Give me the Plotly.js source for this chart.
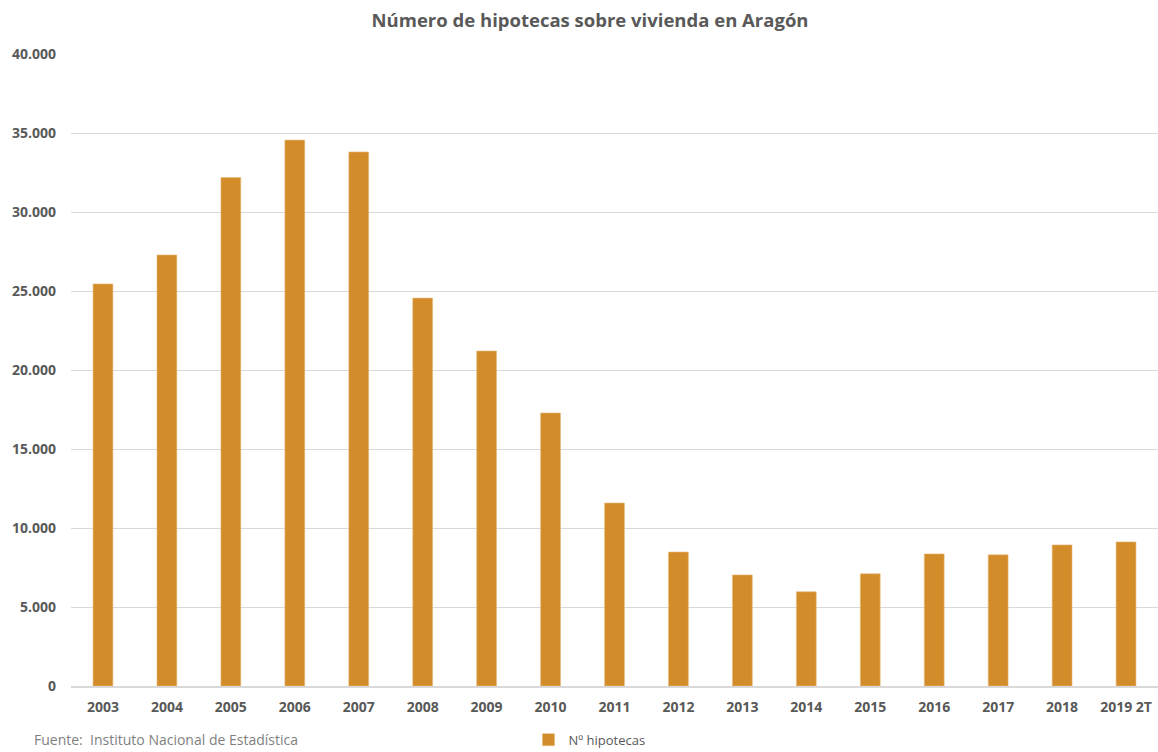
<!DOCTYPE html>
<html>
<head>
<meta charset="utf-8">
<script src="https://cdn.plot.ly/plotly-3.0.1.min.js"></script>
<style>html,body{margin:0;padding:0;background:#fff;}#chart{width:1158px;height:752px;}</style>
</head>
<body>
<div id="chart"></div>
<script>
var categories = ["2003","2004","2005","2006","2007","2008","2009","2010","2011","2012","2013","2014","2015","2016","2017","2018","2019 2T"];
var hipotecas = [25450, 27280, 32180, 34550, 33800, 24550, 21200, 17280, 11580, 8480, 7030, 5960, 7100, 8360, 8300, 8930, 9120];
var yTickVals = [0, 5000, 10000, 15000, 20000, 25000, 30000, 35000, 40000];
var yTickText = ["0", "5.000", "10.000", "15.000", "20.000", "25.000", "30.000", "35.000", "40.000"];

var fontFam = "Open Sans, Liberation Sans, sans-serif";
var trace = {
  type: "bar",
  x: categories,
  y: hipotecas,
  name: "Nº hipotecas",
  marker: {color: "#D38C2A", line: {color: "#E8B978", width: 0.6}},
  hoverinfo: "x+y"
};
var layout = {
  width: 1158, height: 752,
  margin: {l: 71, r: 0, t: 54, b: 66, pad: 0, autoexpand: false},
  paper_bgcolor: "#ffffff", plot_bgcolor: "#ffffff",
  title: {text: "<b>Número de hipotecas sobre vivienda en Aragón</b>", xref: "paper", x: 0.4775, xanchor: "center", y: 0.973, yanchor: "middle",
          font: {family: fontFam, size: 18.5, color: "#595959"}},
  bargap: 0.69,
  showlegend: true,
  legend: {orientation: "h", x: 0.477, xanchor: "center", y: -0.085, yanchor: "middle", itemwidth: 30,
           font: {family: fontFam, size: 13, color: "#595959"}},
  xaxis: {type: "category", showgrid: false, showline: true, linecolor: "#d9d9d9", linewidth: 1.5, automargin: false,
          ticks: "", tickfont: {family: fontFam, size: 14, color: "#595959", weight: "bold"}, ticklabelstandoff: 7},
  yaxis: {range: [0, 40000], tickvals: yTickVals, ticktext: yTickText, showgrid: true, gridcolor: "#d9d9d9", gridwidth: 1,
          automargin: false, zeroline: false, showline: false, ticks: "", tickfont: {family: fontFam, size: 14, color: "#595959", weight: "bold"},
          ticklabelstandoff: 14},
  annotations: [{text: "Fuente:  Instituto Nacional de Estadística", xref: "paper", yref: "paper", x: -0.036, y: -0.085,
                 xanchor: "left", yanchor: "middle", showarrow: false, font: {family: fontFam, size: 14, color: "#7f7f7f"}}]
};
Plotly.newPlot("chart", [trace], layout, {displayModeBar: false});
</script>
</body>
</html>
